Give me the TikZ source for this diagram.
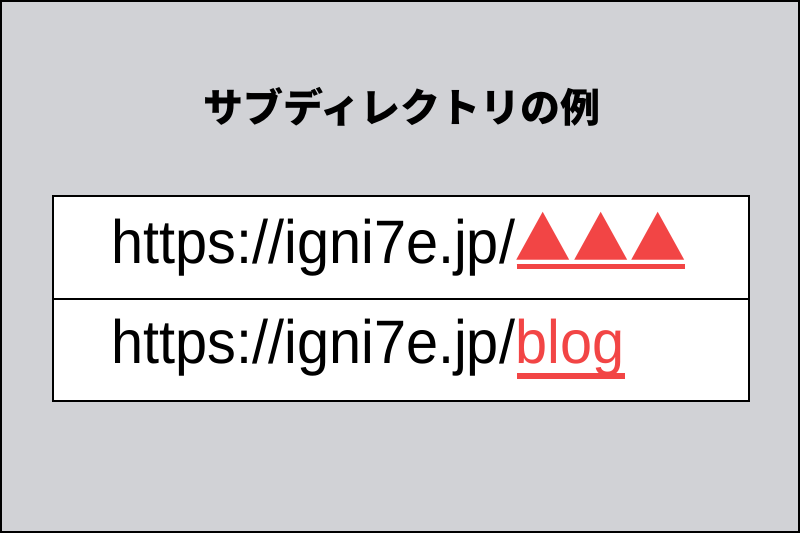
\documentclass[tikz,border=0pt]{standalone}
\usepackage{fontspec}
\setmainfont{Liberation Sans}
\newfontfamily\jpfont{Noto Sans CJK JP}
\newfontfamily\symfont{DejaVu Sans}
\definecolor{bggray}{HTML}{D1D2D6}
\definecolor{urlred}{HTML}{F24545}
\newcommand\urltext[1]{\scalebox{0.94}[1]{#1}}
\newcommand\tri{\raisebox{7.6pt}{\scalebox{0.93}[0.84]{▲}}}
\begin{document}
\begin{tikzpicture}[x=0.75pt,y=-0.75pt,
    title/.style={font=\jpfont\bfseries\fontsize{30}{36}\selectfont,inner sep=0},
    row/.style={draw=black,line width=1.5pt,fill=white,inner sep=0,
        minimum width=522pt,anchor=north west},
    url/.style={font=\fontsize{46}{54}\selectfont,inner sep=0,anchor=base west},
    uline/.style={draw=urlred,line width=3.8pt}]
        \def \Lx {52};
        \def \Ty {195};
        \def \My {298};
        \def \By {400};

        % фон
        \fill [bggray] ( 0, 0 ) rectangle ( 800, 533 );
        \draw [line width=1.5pt] ( 1, 1 ) rectangle ( 799, 532 );

        % заголовок
        \node [title] (title) at ( 402, 107 ) {サブディレクトリの例};

        % строки
        \node [row, minimum height=77.25pt] (rowA) at ( \Lx, \Ty ) {};
        \node [row, minimum height=76.5pt] (rowB) at ( \Lx, \My ) {};

        % адреса
        \node [url] (urlA) at ( 111, 263 ) {\urltext{https://igni7e.jp/}};
        \node [url, text=urlred, font=\symfont\fontsize{56}{60}\selectfont]
            (subA) at ([xshift=1pt]urlA.base east) {\tri\kern3pt\tri\kern3pt\tri};
        \node [url] (urlB) at ( 111, 363 ) {\urltext{https://igni7e.jp/}};
        \node [url, text=urlred] (subB) at (urlB.base east) {\urltext{blog}};

        % подчёркивания
        \draw [uline] ([yshift=-2.6pt]subA.base west) -- ([yshift=-2.6pt]subA.base east);
        \draw [uline] ([xshift=1.5pt]subB.south west) -- (subB.south east);
\end{tikzpicture}
\end{document}
